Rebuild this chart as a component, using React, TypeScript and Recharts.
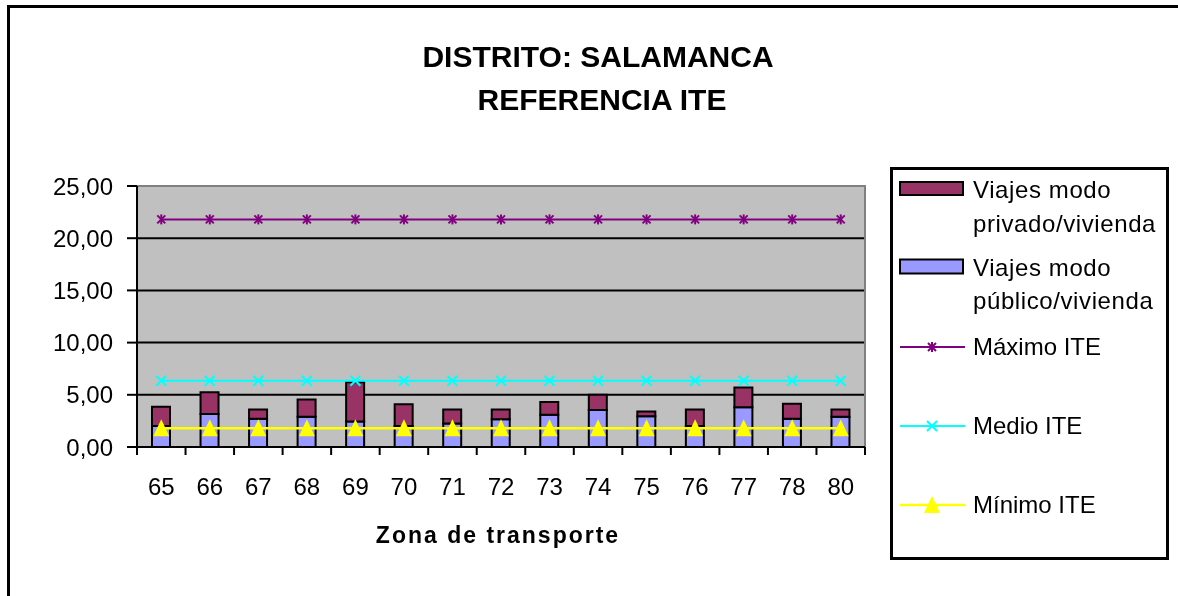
import { ComposedChart, Bar, Line, XAxis, YAxis, CartesianGrid, ReferenceArea } from "recharts"

const zonas = ["65", "66", "67", "68", "69", "70", "71", "72", "73", "74", "75", "76", "77", "78", "80"]
const publico = [2.0, 3.15, 2.7, 2.9, 2.45, 2.0, 2.25, 2.65, 3.1, 3.55, 2.95, 2.0, 3.8, 2.7, 2.9]
const privado = [1.85, 2.1, 0.9, 1.65, 3.75, 2.1, 1.35, 0.95, 1.2, 1.45, 0.45, 1.6, 1.9, 1.45, 0.7]
const maximo = [21.8, 21.8, 21.8, 21.8, 21.8, 21.8, 21.8, 21.8, 21.8, 21.8, 21.8, 21.8, 21.8, 21.8, 21.8]
const medio = [6.35, 6.35, 6.35, 6.35, 6.35, 6.35, 6.35, 6.35, 6.35, 6.35, 6.35, 6.35, 6.35, 6.35, 6.35]
const minimo = [1.8, 1.8, 1.8, 1.8, 1.8, 1.8, 1.8, 1.8, 1.8, 1.8, 1.8, 1.8, 1.8, 1.8, 1.8]
const yTicks = [0, 5, 10, 15, 20, 25]

const data = zonas.map((z, i) => ({
  zona: z,
  publico: publico[i],
  privado: privado[i],
  maximo: maximo[i],
  medio: medio[i],
  minimo: minimo[i],
}))

const FONT = "'Liberation Sans', Arial, sans-serif"
const W = 1162
const H = 580
const PLOT_LEFT = 129
const PLOT_RIGHT_MARGIN = 305
const BAND = (W - PLOT_LEFT - PLOT_RIGHT_MARGIN) / zonas.length

const fmt = (v: number) => v.toFixed(2).replace(".", ",")

function Asterisk({ cx, cy, color = "#800080" }: any) {
  return (
    <g stroke={color} strokeWidth={2}>
      <line x1={cx - 4} y1={cy - 4} x2={cx + 4} y2={cy + 4} />
      <line x1={cx - 4} y1={cy + 4} x2={cx + 4} y2={cy - 4} />
      <line x1={cx} y1={cy - 5} x2={cx} y2={cy + 5} />
    </g>
  )
}

function Cross({ cx, cy, color = "#00FFFF" }: any) {
  return (
    <g stroke={color} strokeWidth={2}>
      <line x1={cx - 5} y1={cy - 5} x2={cx + 5} y2={cy + 5} />
      <line x1={cx - 5} y1={cy + 5} x2={cx + 5} y2={cy - 5} />
    </g>
  )
}

function Tri({ cx, cy, color = "#FFFF00" }: any) {
  return <polygon points={`${cx},${cy - 9} ${cx - 8},${cy + 8} ${cx + 8},${cy + 8}`} fill={color} />
}

function XTick(props: any) {
  const { x, y, payload, index } = props
  const half = BAND / 2
  return (
    <g>
      <line x1={x - half} y1={y} x2={x - half} y2={y + 8} stroke="#000" strokeWidth={2} />
      {index === zonas.length - 1 && (
        <line x1={x + half} y1={y} x2={x + half} y2={y + 8} stroke="#000" strokeWidth={2} />
      )}
      <text x={x} y={y + 48} textAnchor="middle" fontSize={24} fontFamily={FONT} fill="#000">
        {payload.value}
      </text>
    </g>
  )
}

export default function App() {
  return (
    <div style={{ position: "relative", width: W, height: H, fontFamily: FONT }}>
      <div
        style={{
          position: "fixed",
          left: 7,
          top: 5,
          width: 1180,
          height: 600,
          borderTop: "3px solid #000",
          borderLeft: "3px solid #000",
          boxSizing: "border-box",
        }}
      />
      <div style={{ position: "absolute", left: 0, top: 0 }}>
        <ComposedChart
          width={W}
          height={H}
          data={data}
          margin={{ top: 178, right: PLOT_RIGHT_MARGIN, bottom: 81, left: 0 }}
          barSize={18}
        >
          <CartesianGrid vertical={false} fill="#C0C0C0" stroke="#000" strokeWidth={2} />
          <ReferenceArea y1={0} y2={25} fill="none" stroke="#808080" strokeWidth={2} ifOverflow="visible" />
          <XAxis
            dataKey="zona"
            height={60}
            tickSize={0}
            tickMargin={0}
            interval={0}
            tick={<XTick />}
            axisLine={{ stroke: "#000", strokeWidth: 2 }}
            tickLine={false}
          />
          <YAxis
            width={PLOT_LEFT}
            domain={[0, 25]}
            ticks={yTicks}
            tickFormatter={fmt}
            tickSize={10}
            tickMargin={14}
            axisLine={{ stroke: "#000", strokeWidth: 2 }}
            tickLine={{ stroke: "#000", strokeWidth: 2 }}
            tick={{ fontSize: 24, fill: "#000", fontFamily: FONT }}
          />
          <Bar dataKey="publico" stackId="a" fill="#9999FF" stroke="#000" strokeWidth={2} isAnimationActive={false} />
          <Bar dataKey="privado" stackId="a" fill="#993366" stroke="#000" strokeWidth={2} isAnimationActive={false} />
          <Line
            dataKey="maximo"
            stroke="#800080"
            strokeWidth={2}
            dot={(p: any) => <Asterisk key={`mx-${p.index}`} cx={p.cx} cy={p.cy} />}
            isAnimationActive={false}
          />
          <Line
            dataKey="medio"
            stroke="#00FFFF"
            strokeWidth={2}
            dot={(p: any) => <Cross key={`md-${p.index}`} cx={p.cx} cy={p.cy} />}
            isAnimationActive={false}
          />
          <Line
            dataKey="minimo"
            stroke="#FFFF00"
            strokeWidth={2.5}
            dot={(p: any) => <Tri key={`mn-${p.index}`} cx={p.cx} cy={p.cy} />}
            isAnimationActive={false}
          />
        </ComposedChart>
      </div>
      <svg
        width={W}
        height={H}
        style={{ position: "absolute", left: 0, top: 0, pointerEvents: "none" }}
        fontFamily={FONT}
      >
        <text x={590} y={58.7} textAnchor="middle" fontSize={30} fontWeight="bold" fill="#000">
          DISTRITO: SALAMANCA
        </text>
        <text x={594} y={102} textAnchor="middle" fontSize={30} fontWeight="bold" fill="#000">
          REFERENCIA ITE
        </text>
        <text x={490} y={535} textAnchor="middle" fontSize={23} fontWeight="bold" letterSpacing={2} fill="#000">
          Zona de transporte
        </text>

        <rect x={883.5} y={160.5} width={276} height={390} fill="#fff" stroke="#000" strokeWidth={3} />
        <rect x={892} y={174} width={63} height={13} fill="#993366" stroke="#000" strokeWidth={2} />
        <text x={965} y={189.7} fontSize={24} letterSpacing={0.6} fill="#000">Viajes modo</text>
        <text x={965} y={223.7} fontSize={24} letterSpacing={0.6} fill="#000">privado/vivienda</text>
        <rect x={892} y={251.5} width={63} height={14} fill="#9999FF" stroke="#000" strokeWidth={2} />
        <text x={965} y={268} fontSize={24} letterSpacing={0.6} fill="#000">Viajes modo</text>
        <text x={965} y={301.3} fontSize={24} letterSpacing={0.6} fill="#000">público/vivienda</text>

        <line x1={892} y1={339} x2={957} y2={339} stroke="#800080" strokeWidth={2} />
        <Asterisk cx={924} cy={339} />
        <text x={965} y={347} fontSize={24} fill="#000">Máximo ITE</text>

        <line x1={892} y1={418} x2={957} y2={418} stroke="#00FFFF" strokeWidth={2} />
        <Cross cx={924} cy={418} />
        <text x={965} y={426.3} fontSize={24} fill="#000">Medio ITE</text>

        <line x1={892} y1={497} x2={957} y2={497} stroke="#FFFF00" strokeWidth={2.5} />
        <Tri cx={924} cy={497} />
        <text x={965} y={505.3} fontSize={24} fill="#000">Mínimo ITE</text>
      </svg>
    </div>
  )
}
